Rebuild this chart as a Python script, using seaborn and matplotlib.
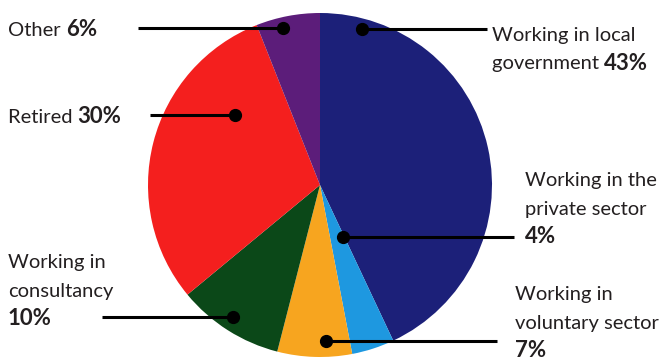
import matplotlib
matplotlib.use("Agg")
import matplotlib.pyplot as plt
import seaborn as sns

# ---- data ----
categories = ["Working in local government", "Working in the private sector",
              "Working in voluntary sector", "Working in consultancy",
              "Retired", "Other"]
shares = [43, 4, 7, 10, 30, 6]
colors = ["#1c2079", "#1e98e0", "#f7a51f", "#0b4818", "#f41f1e", "#5c1d7a"]

# label text: (normal lines..., last line normal part, bold part)
label_lines = {
    "Working in local government": (["Working in local"], "government ", "43%"),
    "Working in the private sector": (["Working in the", "private sector"], "", "4%"),
    "Working in voluntary sector": (["Working in", "voluntary sector"], "", "7%"),
    "Working in consultancy": (["Working in", "consultancy"], "", "10%"),
    "Retired": ([], "Retired ", "30%"),
    "Other": ([], "Other ", "6%"),
}

sns.set_theme(style="white")
plt.rcParams["font.family"] = ["Lato", "DejaVu Sans"]

W, H = 661, 360
CX, CY, R = 320, 185, 172

fig = plt.figure(figsize=(W / 100, H / 100), dpi=100)
ax = fig.add_axes([0, 0, 1, 1])

palette = sns.color_palette(colors)
ax.pie(shares, colors=palette, startangle=90, counterclock=False,
       radius=1, center=(0, 0), wedgeprops=dict(linewidth=0))
ax.set_xlim(-CX / R, (W - CX) / R)
ax.set_ylim(-(H - CY) / R, CY / R)
ax.set_aspect("equal")
ax.axis("off")


def px(x, y):
    return ((x - CX) / R, (CY - y) / R)


# layout (pixel positions): dot, line end x, text x, baseline y of first line
layout = {
    "Other": dict(dot=(283, 28), lx=138, tx=8, ty=36),
    "Retired": dict(dot=(235, 115), lx=150, tx=8, ty=123),
    "Working in consultancy": dict(dot=(233, 317), lx=102, tx=8, ty=268),
    "Working in local government": dict(dot=(362, 29), lx=487, tx=492, ty=41),
    "Working in the private sector": dict(dot=(343, 237), lx=514, tx=525, ty=186),
    "Working in voluntary sector": dict(dot=(326, 341), lx=497, tx=515, ty=300),
}
GAP = 28.5
FS = 14.5
FSB = 16
TC = "#231f20"

for cat in categories:
    L = layout[cat]
    dx, dy = L["dot"]
    x0, y0 = px(dx, dy)
    x1, _ = px(L["lx"], dy)
    ax.plot([x0, x1], [y0, y0], color="black", lw=2.2, solid_capstyle="butt", zorder=3)
    ax.plot([x0], [y0], "o", color="black", ms=8.5, zorder=4)

    lines, last_norm, last_bold = label_lines[cat]
    y = L["ty"]
    for ln in lines:
        ax.text(*px(L["tx"], y), ln, fontsize=FS, color=TC, ha="left", va="baseline")
        y += GAP
    bx, by = px(L["tx"], y)
    if last_norm:
        t = ax.text(bx, by, last_norm, fontsize=FS, color=TC, ha="left", va="baseline")
        ax.annotate(last_bold, xy=(1, by), xycoords=(t, "data"), fontsize=FSB,
                    color=TC, fontweight="bold", ha="left", va="baseline")
    else:
        ax.text(bx, by, last_bold, fontsize=FSB, color=TC,
                fontweight="bold", ha="left", va="baseline")

fig.savefig("out.png", dpi=100)
